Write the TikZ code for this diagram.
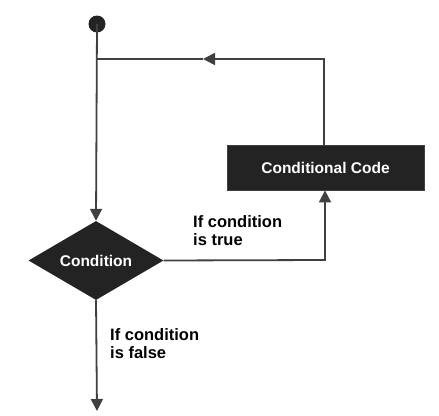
\documentclass[tikz,border=0pt]{standalone}
\usepackage{fontspec}
\setmainfont{Liberation Sans}
\usetikzlibrary{arrows.meta,positioning,shapes.geometric}

\definecolor{boxgray}{HTML}{232323}
\definecolor{linegray}{HTML}{404040}

\tikzset{
  flowline/.style={draw=linegray, line width=1.8pt},
  flowarrow/.style={flowline, -{Triangle[length=12pt,width=12pt]}},
  codebox/.style={rectangle, fill=boxgray, draw=linegray, line width=0.8pt,
    minimum width=197pt, minimum height=45pt, text=white,
    font=\bfseries\fontsize{15.5}{18}\selectfont},
  decision/.style={diamond, fill=boxgray, inner sep=0pt, aspect=1.7,
    minimum width=135pt, minimum height=79pt, text=white,
    font=\bfseries\fontsize{15.5}{18}\selectfont},
  branchlabel/.style={align=left, anchor=north west, inner sep=0pt,
    font=\bfseries\fontsize{16.5}{18}\selectfont},
}

\begin{document}
\begin{tikzpicture}[x=1pt, y=-1pt]
  \useasboundingbox (0,0) rectangle (439,415);
  % start point and loop
  \fill[boxgray] (97,24) circle (8.5pt);
  \coordinate (start) at (97,24);
  \coordinate (loopL) at (97,59);
  \coordinate (loopM) at (203,59);
  \coordinate (loopR) at (324,59);
  \node[codebox] (code) at (325.5,167.5) {Conditional Code};
  \node[decision] (cond) at (96,260.5) {Condition};
  \coordinate (trueC) at (325,260);
  \coordinate (endpt) at (97,411);

  \draw[flowarrow] (start) -- (cond.north);
  \draw[flowarrow] (code.north -| loopR) -- (loopR) -- (loopM);
  \draw[flowline] (loopM) -- (loopL);
  \draw[flowarrow] (cond.east) -- (trueC) -- (code.south -| trueC);
  \draw[flowarrow] (cond.south) -- (endpt);

  % branch labels
  \node[branchlabel] (truelbl) at (193,215) {If condition\\is true};
  \node[branchlabel] (falselbl) at (110,328) {If condition\\is false};
\end{tikzpicture}
\end{document}
